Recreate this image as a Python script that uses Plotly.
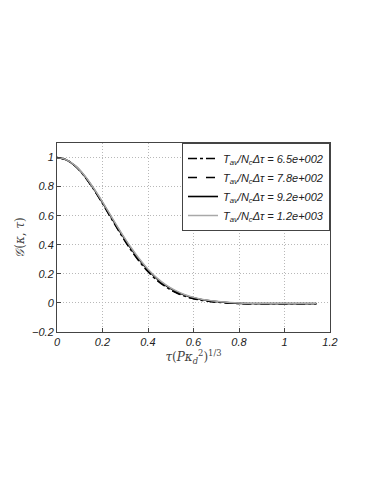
import plotly.graph_objects as go

# shared time axis
tau = [0.0, 0.04, 0.08, 0.12, 0.16, 0.20, 0.24, 0.28, 0.32, 0.36, 0.40, 0.44, 0.48,
       0.52, 0.56, 0.60, 0.64, 0.68, 0.72, 0.76, 0.80, 0.84, 0.88, 0.92, 0.96,
       1.00, 1.04, 1.08, 1.14]

g_650 = [1.0, 0.985, 0.941, 0.872, 0.783, 0.683, 0.576, 0.472, 0.374, 0.288, 0.214,
         0.154, 0.108, 0.072, 0.046, 0.028, 0.016, 0.008, 0.003, -0.002, -0.005, -0.006,
         -0.006, -0.006, -0.006, -0.006, -0.006, -0.006, -0.006]
g_780 = [1.0, 0.985, 0.942, 0.873, 0.785, 0.686, 0.580, 0.476, 0.379, 0.293, 0.219,
         0.158, 0.111, 0.075, 0.048, 0.030, 0.017, 0.009, 0.003, -0.002, -0.004, -0.005,
         -0.005, -0.005, -0.005, -0.005, -0.005, -0.005, -0.005]
g_920 = [1.0, 0.985, 0.942, 0.875, 0.788, 0.690, 0.585, 0.483, 0.386, 0.300, 0.226,
         0.165, 0.118, 0.081, 0.054, 0.035, 0.022, 0.013, 0.006, 0.001, -0.003, -0.004,
         -0.005, -0.005, -0.005, -0.005, -0.005, -0.005, -0.005]
g_1200 = [1.0, 0.986, 0.944, 0.878, 0.792, 0.695, 0.591, 0.489, 0.393, 0.307, 0.232,
          0.171, 0.123, 0.086, 0.058, 0.038, 0.024, 0.015, 0.008, 0.003, -0.001, -0.003,
          -0.004, -0.004, -0.004, -0.004, -0.004, -0.004, -0.004]

names = ["6.5e+002", "7.8e+002", "9.2e+002", "1.2e+003"]
series = [g_650, g_780, g_920, g_1200]
styles = [("black", "dashdot", 1.3), ("black", "dash", 1.5),
          ("black", "solid", 1.6), ("#a8a8a8", "solid", 1.5)]

fig = go.Figure()
for nm, ys, (col, dash, w) in zip(names, series, styles):
    fig.add_trace(go.Scatter(
        x=tau, y=ys, mode="lines", line=dict(color=col, dash=dash, width=w, shape="spline"),
        name="<i>T<sub>av</sub>/N<sub>c</sub>Δτ = " + nm + "</i>"))

axis_common = dict(showline=True, linecolor="#444", linewidth=1, mirror=True,
                   ticks="inside", ticklen=4, tickcolor="#444",
                   showgrid=True, gridcolor="#b8b8b8", griddash="1px,2px", gridwidth=1,
                   zeroline=False,
                   tickfont=dict(family="Liberation Sans, Arial", size=11, color="#222",
                                 style="italic"))

fig.update_xaxes(range=[0, 1.2], dtick=0.2, tickformat="~g",
                 title=dict(text="<i>τ</i>(<i>Pκ<sub>d</sub></i><sup>2</sup>)<sup>1/3</sup>",
                            font=dict(family="DejaVu Serif", size=12, color="#444"),
                            standoff=2),
                 **axis_common)
fig.update_yaxes(range=[-0.2, 1.1], tickvals=[-0.2, 0, 0.2, 0.4, 0.6, 0.8, 1],
                 ticktext=["−0.2", "0", "0.2", "0.4", "0.6", "0.8", "1"],
                 title=dict(text="<i>𝒢</i>(<i>κ</i>, <i>τ</i>)",
                            font=dict(family="DejaVu Serif", size=12, color="#444"),
                            standoff=4),
                 **axis_common)

fig.update_layout(
    width=366, height=476,
    margin=dict(l=49, r=44, t=135, b=152),
    plot_bgcolor="white", paper_bgcolor="white",
    showlegend=True,
    legend=dict(x=1, y=1, xanchor="right", yanchor="top",
                bgcolor="white", bordercolor="#444", borderwidth=1,
                font=dict(family="Liberation Sans, Arial", size=11, color="#222"),
                tracegroupgap=0, itemwidth=30),
)

fig.write_html("out.html")
